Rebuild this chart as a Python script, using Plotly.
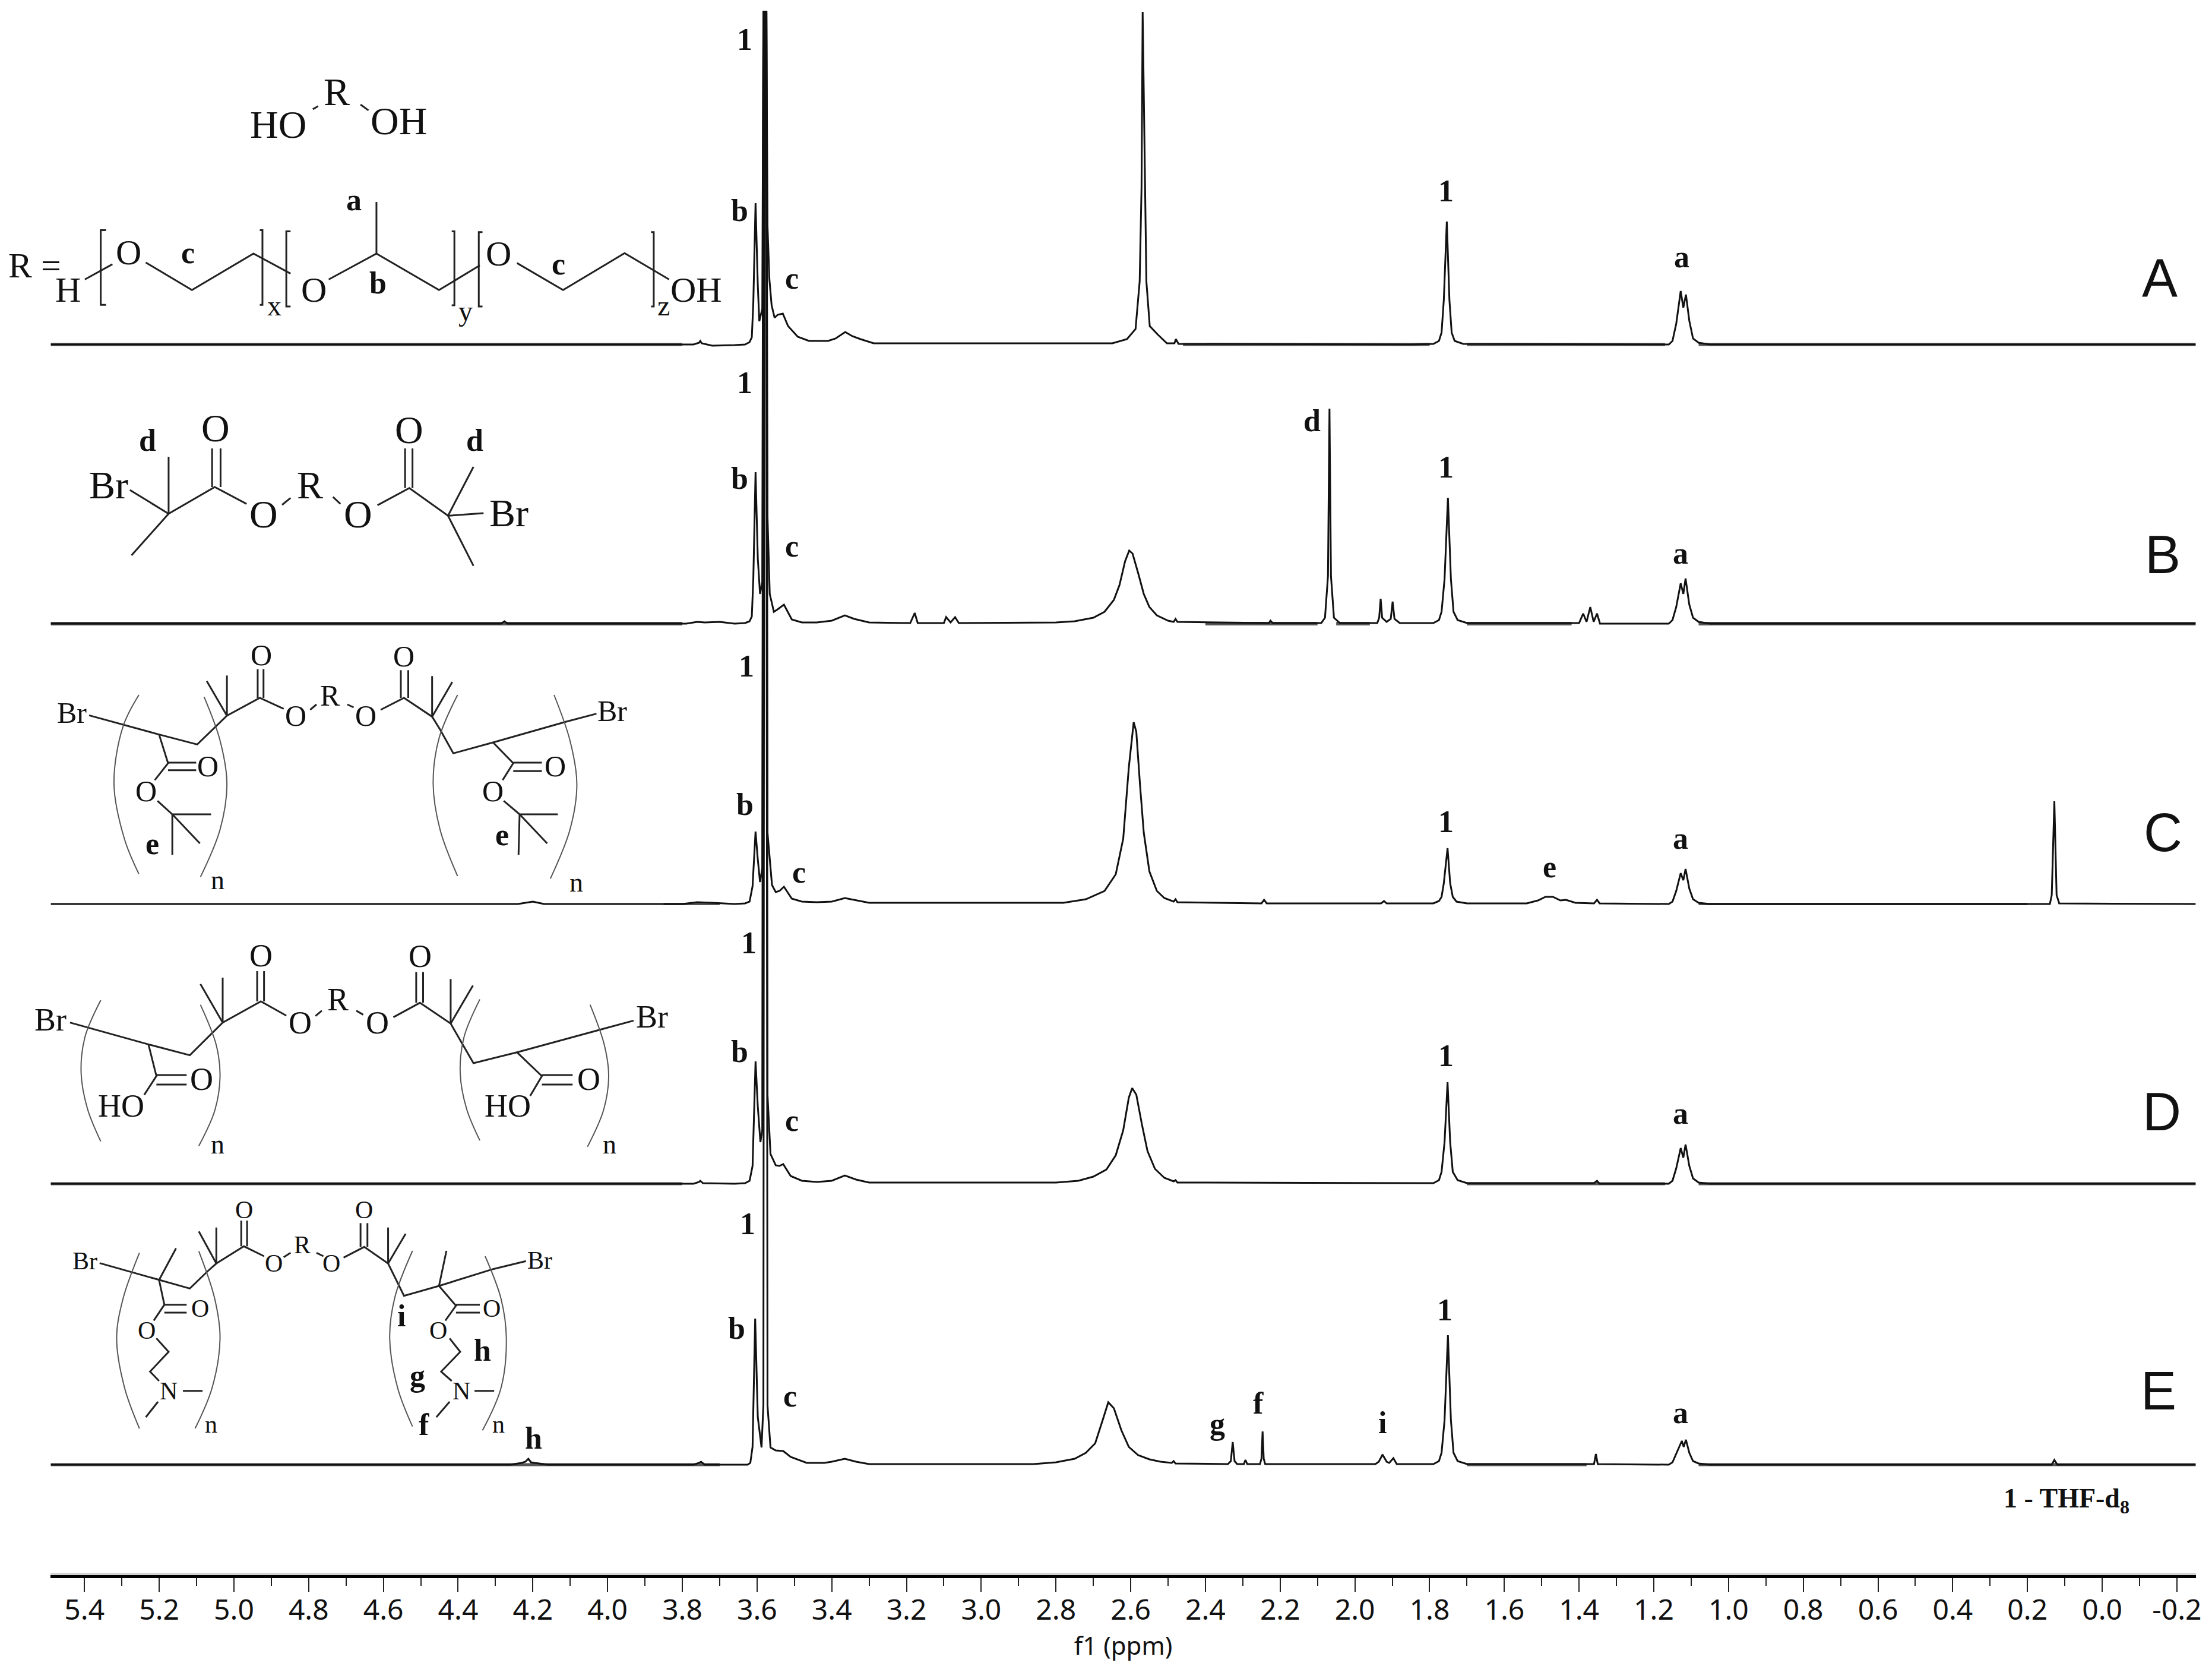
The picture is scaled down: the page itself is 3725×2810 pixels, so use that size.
import plotly.graph_objects as go

# ppm axis labels
tick_vals = [5.4, 5.2, 5.0, 4.8, 4.6, 4.4, 4.2, 4.0, 3.8, 3.6, 3.4, 3.2, 3.0, 2.8, 2.6, 2.4, 2.2, 2.0, 1.8, 1.6, 1.4, 1.2, 1.0, 0.8, 0.6, 0.4, 0.2, 0.0, -0.2]
tick_text = ["5.4", "5.2", "5.0", "4.8", "4.6", "4.4", "4.2", "4.0", "3.8", "3.6", "3.4", "3.2", "3.0", "2.8", "2.6", "2.4", "2.2", "2.0", "1.8", "1.6", "1.4", "1.2", "1.0", "0.8", "0.6", "0.4", "0.2", "0.0", "-0.2"]

# spectrum A
a_ppm = [5.49, 3.77, 3.755, 3.752, 3.748, 3.72, 3.66, 3.632, 3.62, 3.614, 3.61, 3.604, 3.598, 3.594, 3.586, 3.584, 3.583, 3.575, 3.572, 3.567, 3.561, 3.553, 3.545, 3.531, 3.517, 3.491, 3.461, 3.41, 3.39, 3.364, 3.345, 3.323, 3.288, 2.75, 2.649, 2.61, 2.587, 2.576, 2.571, 2.568, 2.562, 2.558, 2.549, 2.528, 2.503, 2.483, 2.479, 2.472, 1.85, 1.79, 1.775, 1.768, 1.762, 1.754, 1.747, 1.741, 1.733, 1.71, 1.16, 1.15, 1.14, 1.128, 1.121, 1.114, 1.105, 1.095, 1.08, 1.05, -0.25]
a_int = [0, 0, 3, 6, 2, -2, -1, 0, 4, 12, 70, 238, 100, 39, 60, 300, 560, 560, 200, 110, 66, 45, 50, 52, 31, 13, 6, 6, 10, 21, 14, 9, 2, 2, 2, 9, 26, 106, 264, 560, 264, 106, 31, 17, 2, 2, 9, 1, 0, 1, 6, 20, 75, 207, 75, 20, 6, 1, 0, 6, 35, 90, 62, 84, 40, 10, 3, 0, 0]

# spectrum B
b_ppm = [5.49, 4.285, 4.276, 4.268, 3.79, 3.76, 3.74, 3.70, 3.66, 3.632, 3.62, 3.614, 3.61, 3.604, 3.598, 3.592, 3.586, 3.583, 3.575, 3.572, 3.566, 3.555, 3.545, 3.528, 3.507, 3.48, 3.44, 3.40, 3.365, 3.34, 3.30, 3.19, 3.178, 3.17, 3.10, 3.094, 3.082, 3.07, 3.06, 2.80, 2.75, 2.70, 2.67, 2.645, 2.63, 2.615, 2.604, 2.595, 2.58, 2.565, 2.55, 2.53, 2.50, 2.485, 2.48, 2.475, 2.23, 2.226, 2.22, 2.09, 2.08, 2.072, 2.068, 2.064, 2.056, 2.04, 1.94, 1.935, 1.931, 1.927, 1.915, 1.904, 1.899, 1.894, 1.88, 1.79, 1.775, 1.768, 1.76, 1.751, 1.743, 1.736, 1.725, 1.70, 1.40, 1.389, 1.38, 1.37, 1.361, 1.352, 1.344, 1.16, 1.15, 1.14, 1.128, 1.121, 1.115, 1.105, 1.095, 1.08, 1.05, -0.25]
b_int = [0, 0, 4, 0, 0, 3, 2, 3, 0, 1, 4, 12, 75, 255, 110, 50, 70, 1030, 1030, 180, 50, 20, 24, 32, 7, 2, 2, 5, 14, 8, 2, 1, 18, 1, 1, 11, 2, 11, 1, 2, 4, 10, 20, 40, 65, 105, 123, 118, 85, 50, 28, 14, 5, 3, 8, 3, 1, 5, 1, 1, 10, 80, 362, 80, 10, 1, 1, 10, 42, 10, 3, 8, 37, 8, 1, 1, 6, 20, 75, 212, 75, 20, 6, 1, 1, 17, 3, 28, 3, 17, 0, 0, 6, 28, 68, 50, 76, 32, 10, 3, 0, 0]

# spectrum C
c_ppm = [5.49, 4.24, 4.2, 4.17, 3.80, 3.76, 3.72, 3.66, 3.632, 3.62, 3.612, 3.604, 3.598, 3.592, 3.586, 3.583, 3.575, 3.572, 3.56, 3.55, 3.54, 3.528, 3.507, 3.48, 3.44, 3.40, 3.365, 3.335, 3.30, 2.78, 2.72, 2.67, 2.64, 2.62, 2.605, 2.592, 2.585, 2.575, 2.565, 2.55, 2.53, 2.51, 2.485, 2.48, 2.475, 2.25, 2.243, 2.236, 1.93, 1.922, 1.915, 1.79, 1.775, 1.768, 1.762, 1.752, 1.745, 1.738, 1.728, 1.70, 1.54, 1.51, 1.49, 1.47, 1.45, 1.435, 1.41, 1.36, 1.352, 1.345, 1.16, 1.15, 1.14, 1.128, 1.121, 1.115, 1.105, 1.095, 1.08, 1.05, 0.14, 0.135, 0.128, 0.122, 0.115, -0.25]
c_int = [0, 0, 4, 0, 0, 3, 2, 0, 1, 4, 30, 122, 75, 37, 60, 1502, 1502, 120, 32, 20, 22, 29, 9, 4, 3, 4, 10, 6, 2, 2, 8, 22, 50, 110, 230, 306, 290, 200, 120, 55, 22, 10, 4, 8, 3, 1, 7, 1, 1, 5, 1, 1, 5, 12, 35, 94, 35, 12, 4, 1, 1, 6, 12, 12, 6, 7, 2, 1, 7, 1, 0, 4, 22, 52, 40, 59, 26, 8, 2, 0, 0, 15, 173, 15, 1, 0]

# spectrum D
d_ppm = [5.49, 3.77, 3.755, 3.752, 3.745, 3.66, 3.632, 3.62, 3.612, 3.609, 3.604, 3.598, 3.591, 3.586, 3.583, 3.575, 3.572, 3.564, 3.55, 3.54, 3.53, 3.51, 3.48, 3.44, 3.40, 3.365, 3.335, 3.30, 2.80, 2.74, 2.70, 2.665, 2.64, 2.62, 2.605, 2.596, 2.585, 2.57, 2.555, 2.535, 2.51, 2.485, 2.48, 2.475, 1.79, 1.775, 1.768, 1.76, 1.752, 1.745, 1.738, 1.725, 1.70, 1.36, 1.352, 1.345, 1.16, 1.15, 1.14, 1.128, 1.121, 1.115, 1.105, 1.095, 1.08, 1.05, -0.25]
d_int = [0, 0, 3, 5, 1, 0, 1, 5, 30, 90, 206, 130, 70, 90, 1973, 1973, 150, 50, 31, 30, 33, 13, 5, 3, 5, 14, 7, 2, 2, 5, 12, 24, 48, 90, 145, 161, 150, 100, 55, 25, 10, 4, 6, 2, 1, 6, 20, 70, 171, 70, 20, 6, 1, 1, 5, 0, 0, 5, 26, 60, 44, 66, 30, 9, 2, 0, 0]

# spectrum E
e_ppm = [5.49, 4.26, 4.23, 4.22, 4.212, 4.205, 4.195, 4.16, 3.77, 3.755, 3.75, 3.74, 3.66, 3.625, 3.618, 3.612, 3.605, 3.598, 3.588, 3.583, 3.58, 3.576, 3.572, 3.564, 3.55, 3.53, 3.51, 3.467, 3.42, 3.40, 3.365, 3.335, 3.30, 2.86, 2.80, 2.75, 2.72, 2.695, 2.675, 2.66, 2.645, 2.625, 2.605, 2.58, 2.55, 2.52, 2.49, 2.485, 2.48, 2.34, 2.332, 2.327, 2.322, 2.315, 2.297, 2.293, 2.288, 2.254, 2.25, 2.247, 2.244, 2.24, 1.945, 1.936, 1.926, 1.915, 1.908, 1.897, 1.888, 1.79, 1.775, 1.768, 1.76, 1.751, 1.743, 1.736, 1.725, 1.70, 1.36, 1.355, 1.35, 1.16, 1.15, 1.14, 1.125, 1.12, 1.114, 1.105, 1.095, 1.08, 1.05, 0.135, 0.128, 0.12, -0.25]
e_int = [0, 0, 3, 5, 10, 4, 3, 0, 0, 3, 5, 0, 0, 0, 3, 30, 246, 80, 29, 100, 2446, 2446, 100, 29, 24, 23, 13, 3, 3, 5, 10, 5, 1, 1, 4, 10, 20, 36, 75, 105, 95, 58, 30, 16, 9, 5, 3, 6, 2, 1, 6, 38, 6, 1, 1, 8, 1, 1, 10, 56, 10, 1, 1, 5, 17, 5, 3, 11, 1, 1, 6, 20, 75, 218, 75, 20, 6, 1, 1, 18, 1, 0, 4, 18, 40, 30, 42, 20, 6, 2, 0, 0, 8, 0, 0]

spectra_ppm = [a_ppm, b_ppm, c_ppm, d_ppm, e_ppm]
spectra_int = [a_int, b_int, c_int, d_int, e_int]
stack_offsets = [2074, 1604, 1132, 661, 188]

# noisy stretches of flat baseline, these print heavier in the figure
noise_ppm = [
    [(5.49, 3.80), (2.46, 1.80), (1.70, 1.17), (1.08, -0.25)],
    [(5.49, 3.80), (2.40, 2.10), (2.05, 1.96), (1.70, 1.42), (1.08, -0.25)],
    [(3.85, 3.70), (1.08, 0.2)],
    [(5.49, 3.80), (1.70, 1.17), (1.08, -0.25)],
    [(5.49, 3.70), (1.70, 1.38), (1.08, -0.25)],
]
noise_widths = [5, 6, 4, 5, 5]

# name, x, y  (page pixels)
peak_labels = [
    ("1", 1254, 66), ("b", 1245, 354), ("c", 1333, 468), ("1", 2435, 321), ("a", 2832, 432),
    ("1", 1254, 644), ("b", 1245, 805), ("c", 1333, 919), ("d", 2209, 708), ("1", 2435, 786), ("a", 2830, 931),
    ("1", 1257, 1121), ("b", 1254, 1354), ("c", 1345, 1468), ("1", 2435, 1383), ("e", 2609, 1459), ("a", 2830, 1411),
    ("1", 1261, 1587), ("b", 1245, 1770), ("c", 1333, 1886), ("1", 2435, 1777), ("a", 2830, 1874),
    ("1", 1259, 2060), ("b", 1240, 2236), ("c", 1330, 2350), ("g", 2050, 2397), ("f", 2119, 2362), ("i", 2328, 2395), ("1", 2433, 2205), ("a", 2830, 2378), ("h", 898, 2421),
]
panel_labels = [("A", 3637, 468), ("B", 3642, 934), ("C", 3642, 1402), ("D", 3640, 1872), ("E", 3635, 2342)]

# structure drawings, read off crops, each with own y origin and y scale
# text, x, y, size, bold
struct_1 = dict(y0=0, sy=2.529,
    bonds=[[(590, 465), (600, 452)], [(680, 445), (695, 470)],
           [(160, 1190), (212, 1125)], [(275, 1118), (362, 1235), (478, 1080), (548, 1165)],
           [(620, 1190), (710, 1080), (828, 1235), (905, 1130)], [(975, 1120), (1062, 1235), (1178, 1078), (1262, 1190)],
           [(710, 1080), (710, 860)],
           [(200, 980), (190, 980), (190, 1298), (200, 1298)], [(490, 980), (495, 980), (495, 1298), (490, 1298)],
           [(548, 985), (540, 985), (540, 1305), (548, 1305)], [(852, 985), (857, 985), (857, 1300), (852, 1300)],
           [(910, 988), (903, 988), (903, 1305), (910, 1305)], [(1228, 988), (1233, 988), (1233, 1305), (1228, 1305)]],
    parens=[],
    text=[("R", 635, 390, 66, 0), ("HO", 525, 530, 66, 0), ("OH", 752, 515, 66, 0), ("R =", 65, 1130, 60, 0), ("H", 128, 1235, 60, 0),
          ("O", 243, 1075, 60, 0), ("O", 592, 1235, 60, 0), ("O", 940, 1080, 60, 0), ("OH", 1313, 1235, 60, 0),
          ("a", 668, 850, 52, 1), ("b", 713, 1205, 52, 1), ("c", 355, 1075, 52, 1), ("c", 1053, 1125, 52, 1),
          ("x", 517, 1300, 48, 0), ("y", 878, 1325, 48, 0), ("z", 1252, 1300, 48, 0)])
struct_2 = dict(y0=620, sy=3,
    bonds=[[(318, 447), (318, 735)], [(245, 615), (318, 735)], [(248, 945), (318, 735), (405, 600), (465, 685)],
           [(400, 405), (400, 600)], [(416, 405), (416, 600)], [(532, 690), (548, 655)], [(628, 650), (642, 685)],
           [(712, 692), (772, 605), (845, 745)], [(764, 405), (764, 605)], [(778, 405), (778, 605)],
           [(893, 498), (845, 745), (893, 998)], [(845, 745), (912, 732)]],
    parens=[],
    text=[("Br", 205, 590, 66, 0), ("O", 407, 300, 66, 0), ("d", 278, 365, 52, 1), ("O", 497, 737, 66, 0), ("R", 585, 590, 66, 0),
          ("O", 675, 737, 66, 0), ("O", 772, 310, 66, 0), ("d", 895, 365, 52, 1), ("Br", 960, 730, 66, 0)])
struct_3 = dict(y0=1080, sy=3,
    bonds=[[(168, 373), (300, 470), (372, 520), (410, 420), (428, 375), (490, 285), (535, 340)], [(428, 375), (390, 200)], [(428, 375), (428, 172)],
           [(486, 140), (486, 285)], [(497, 140), (497, 285)], [(585, 345), (597, 318)], [(655, 318), (667, 333)],
           [(718, 345), (762, 285), (815, 380), (830, 445), (855, 565), (930, 510), (1068, 405), (1125, 365)],
           [(815, 380), (815, 175)], [(815, 380), (853, 205)], [(756, 145), (756, 285)], [(770, 145), (770, 285)],
           [(300, 470), (317, 615), (292, 700)], [(317, 612), (370, 612)], [(317, 650), (370, 650)],
           [(297, 805), (325, 873), (398, 873)], [(325, 873), (325, 1078)], [(325, 873), (377, 1020)],
           [(930, 510), (968, 615), (948, 700)], [(968, 612), (1022, 612)], [(968, 655), (1022, 655)],
           [(950, 805), (980, 873), (1052, 873)], [(980, 873), (978, 1078)], [(980, 873), (1032, 1020)]],
    parens=[[(262, 270), (232, 430), (215, 720), (235, 1000), (262, 1175)], [(385, 280), (415, 500), (428, 720), (415, 950), (378, 1190)],
            [(863, 270), (828, 490), (817, 720), (830, 950), (863, 1185)], [(1045, 270), (1075, 500), (1088, 720), (1075, 950), (1038, 1198)]],
    text=[("Br", 135, 360, 50, 0), ("O", 493, 70, 50, 0), ("O", 762, 75, 50, 0), ("R", 623, 272, 50, 0), ("O", 558, 375, 50, 0), ("O", 690, 375, 50, 0),
          ("Br", 1155, 350, 50, 0), ("O", 392, 630, 50, 0), ("O", 275, 755, 50, 0), ("e", 287, 1020, 52, 1), ("n", 410, 1205, 46, 0),
          ("O", 1047, 630, 50, 0), ("O", 930, 755, 50, 0), ("e", 947, 975, 52, 1), ("n", 1087, 1215, 46, 0)])
struct_4 = dict(y0=1560, sy=3,
    bonds=[[(132, 485), (280, 595), (358, 650), (420, 485), (492, 378), (540, 450)], [(420, 485), (378, 290)], [(420, 485), (420, 258)],
           [(485, 225), (485, 378)], [(498, 225), (498, 378)], [(595, 452), (607, 425)], [(672, 425), (685, 445)],
           [(742, 458), (792, 385), (850, 490), (893, 690), (975, 635), (1195, 475)], [(850, 490), (850, 265)], [(850, 490), (892, 298)],
           [(785, 230), (785, 385)], [(798, 230), (798, 385)],
           [(280, 595), (295, 755), (272, 850)], [(295, 750), (352, 750)], [(295, 798), (352, 798)],
           [(975, 635), (1022, 755), (1000, 855)], [(1022, 750), (1080, 750)], [(1022, 798), (1080, 798)]],
    parens=[[(190, 372), (160, 560), (153, 740), (165, 920), (190, 1085)], [(378, 395), (408, 600), (415, 760), (405, 930), (375, 1108)],
            [(905, 368), (875, 560), (868, 740), (880, 920), (905, 1080)], [(1113, 395), (1140, 600), (1148, 760), (1138, 930), (1108, 1112)]],
    text=[("Br", 95, 470, 54, 0), ("O", 492, 148, 54, 0), ("O", 792, 150, 54, 0), ("R", 637, 370, 54, 0), ("O", 566, 485, 54, 0), ("O", 712, 485, 54, 0),
          ("Br", 1230, 455, 54, 0), ("O", 380, 772, 54, 0), ("HO", 228, 905, 54, 0), ("n", 410, 1100, 46, 0),
          ("O", 1110, 772, 54, 0), ("HO", 958, 905, 54, 0), ("n", 1150, 1100, 46, 0)])
struct_5 = dict(y0=2020, sy=3,
    bonds=[[(188, 320), (300, 405), (358, 448), (392, 360), (408, 322), (460, 235), (498, 285)], [(408, 322), (375, 160)], [(408, 322), (408, 140)],
           [(455, 105), (455, 235)], [(466, 105), (466, 235)], [(535, 290), (548, 268)], [(597, 268), (610, 285)],
           [(648, 292), (687, 238), (732, 322), (752, 430), (762, 485), (828, 435), (930, 350), (992, 310)],
           [(732, 322), (732, 140)], [(732, 322), (765, 172)], [(680, 118), (680, 238)], [(693, 118), (693, 238)],
           [(300, 405), (332, 245)], [(828, 435), (842, 258)],
           [(300, 405), (310, 530), (290, 610)], [(310, 530), (352, 530)], [(310, 570), (352, 570)],
           [(295, 700), (318, 768), (283, 868), (300, 915)], [(345, 965), (382, 965)], [(298, 1020), (275, 1098)],
           [(828, 435), (860, 535), (840, 610)], [(860, 530), (905, 530)], [(860, 570), (905, 570)],
           [(848, 700), (868, 768), (832, 868), (852, 915)], [(895, 965), (932, 965)], [(848, 1020), (823, 1098)]],
    parens=[[(263, 268), (232, 500), (220, 700), (235, 950), (263, 1155)], [(375, 260), (405, 500), (415, 700), (400, 950), (368, 1155)],
            [(778, 258), (745, 490), (735, 700), (750, 950), (778, 1145)], [(915, 285), (945, 500), (955, 700), (945, 950), (910, 1165)]],
    text=[("Br", 160, 310, 42, 0), ("O", 460, 50, 42, 0), ("O", 687, 50, 42, 0), ("R", 570, 228, 42, 0), ("O", 516, 322, 42, 0), ("O", 625, 322, 42, 0),
          ("Br", 1018, 305, 42, 0), ("O", 377, 550, 42, 0), ("O", 277, 660, 42, 0), ("N", 318, 965, 42, 0), ("n", 398, 1135, 42, 0),
          ("O", 927, 550, 42, 0), ("O", 827, 660, 42, 0), ("N", 870, 965, 42, 0), ("n", 940, 1135, 42, 0),
          ("i", 757, 585, 52, 1), ("h", 910, 760, 52, 1), ("g", 787, 890, 52, 1), ("f", 800, 1135, 52, 1)])
structures = [struct_1, struct_2, struct_3, struct_4, struct_5]

SERIF = "Liberation Serif"
SANS = "Noto Sans"
INK = "#111111"
X_CROP = 1.12

fig = go.Figure()

for ppm, vals, off, noise, nw in zip(spectra_ppm, spectra_int, stack_offsets, noise_ppm, noise_widths):
    for left, right in noise:
        fig.add_trace(go.Scatter(x=[left, right], y=[off, off], mode="lines", line=dict(color="#555555", width=nw), hoverinfo="skip"))
    fig.add_trace(go.Scatter(x=ppm, y=[v + off for v in vals], mode="lines", line=dict(color=INK, width=3)))


def label(text, x, y, size, family=SERIF, color=INK):
    fig.add_annotation(text=text, x=x, y=y, xref="x2", yref="y2", showarrow=False, xanchor="center", yanchor="middle",
                       font=dict(family=family, size=size, color=color))


# structures go on a second pair of axes that runs in page pixels
for s in structures:
    xs, ys = [], []
    for poly in s["bonds"]:
        for px, py in poly:
            xs.append(px / X_CROP)
            ys.append(s["y0"] + py / s["sy"])
        xs.append(None)
        ys.append(None)
    fig.add_trace(go.Scatter(x=xs, y=ys, xaxis="x2", yaxis="y2", mode="lines", line=dict(color="#222222", width=3), hoverinfo="skip"))
    for poly in s["parens"]:
        fig.add_trace(go.Scatter(x=[p[0] / X_CROP for p in poly], y=[s["y0"] + p[1] / s["sy"] for p in poly], xaxis="x2", yaxis="y2", mode="lines",
                                 line=dict(color="#555555", width=2, shape="spline"), hoverinfo="skip"))
    for t, px, py, size, bold in s["text"]:
        label("<b>" + t + "</b>" if bold else t, px / X_CROP, s["y0"] + py / s["sy"], size)

for t, x, y in peak_labels:
    label("<b>" + t + "</b>", x, y, 52)
for t, x, y in panel_labels:
    label(t, x, y, 90, family="Liberation Sans")
label("<b>1 - THF-d<sub>8</sub></b>", 3480, 2526, 46)

fig.update_layout(
    width=3725, height=2810, margin=dict(l=0, r=0, t=0, b=0, autoexpand=False),
    paper_bgcolor="rgba(0,0,0,0)", plot_bgcolor="rgba(0,0,0,0)", showlegend=False,
    xaxis=dict(domain=[85 / 3725, 3698 / 3725], range=[5.491, -0.251], tickmode="array", tickvals=tick_vals, ticktext=tick_text,
               ticks="outside", ticklen=23, tickwidth=2, tickcolor="#222222", showgrid=False, zeroline=False,
               showline=True, linecolor="black", linewidth=5, ticklabelstandoff=-10,
               minor=dict(dtick=0.1, tick0=0, ticks="outside", ticklen=13, tickwidth=2, tickcolor="#222222", showgrid=False),
               tickfont=dict(family=SANS, size=48, color=INK),
               title=dict(text="f1 (ppm)", font=dict(family=SANS, size=42, color=INK), standoff=0)),
    yaxis=dict(domain=[158.5 / 2810, 1], range=[2.5, 2654], visible=False),
    xaxis2=dict(domain=[0, 1], range=[0, 3725], anchor="y2", visible=False),
    yaxis2=dict(domain=[0, 1], range=[2810, 0], anchor="x2", visible=False),
    shapes=[dict(type="line", xref="x2", yref="y2", x0=85, x1=3698, y0=2650, y1=2650, line=dict(color="#c8c8c8", width=3))],
)

fig.write_html("out.html", post_script="document.body.style.margin='0';", config={"displayModeBar": False})
